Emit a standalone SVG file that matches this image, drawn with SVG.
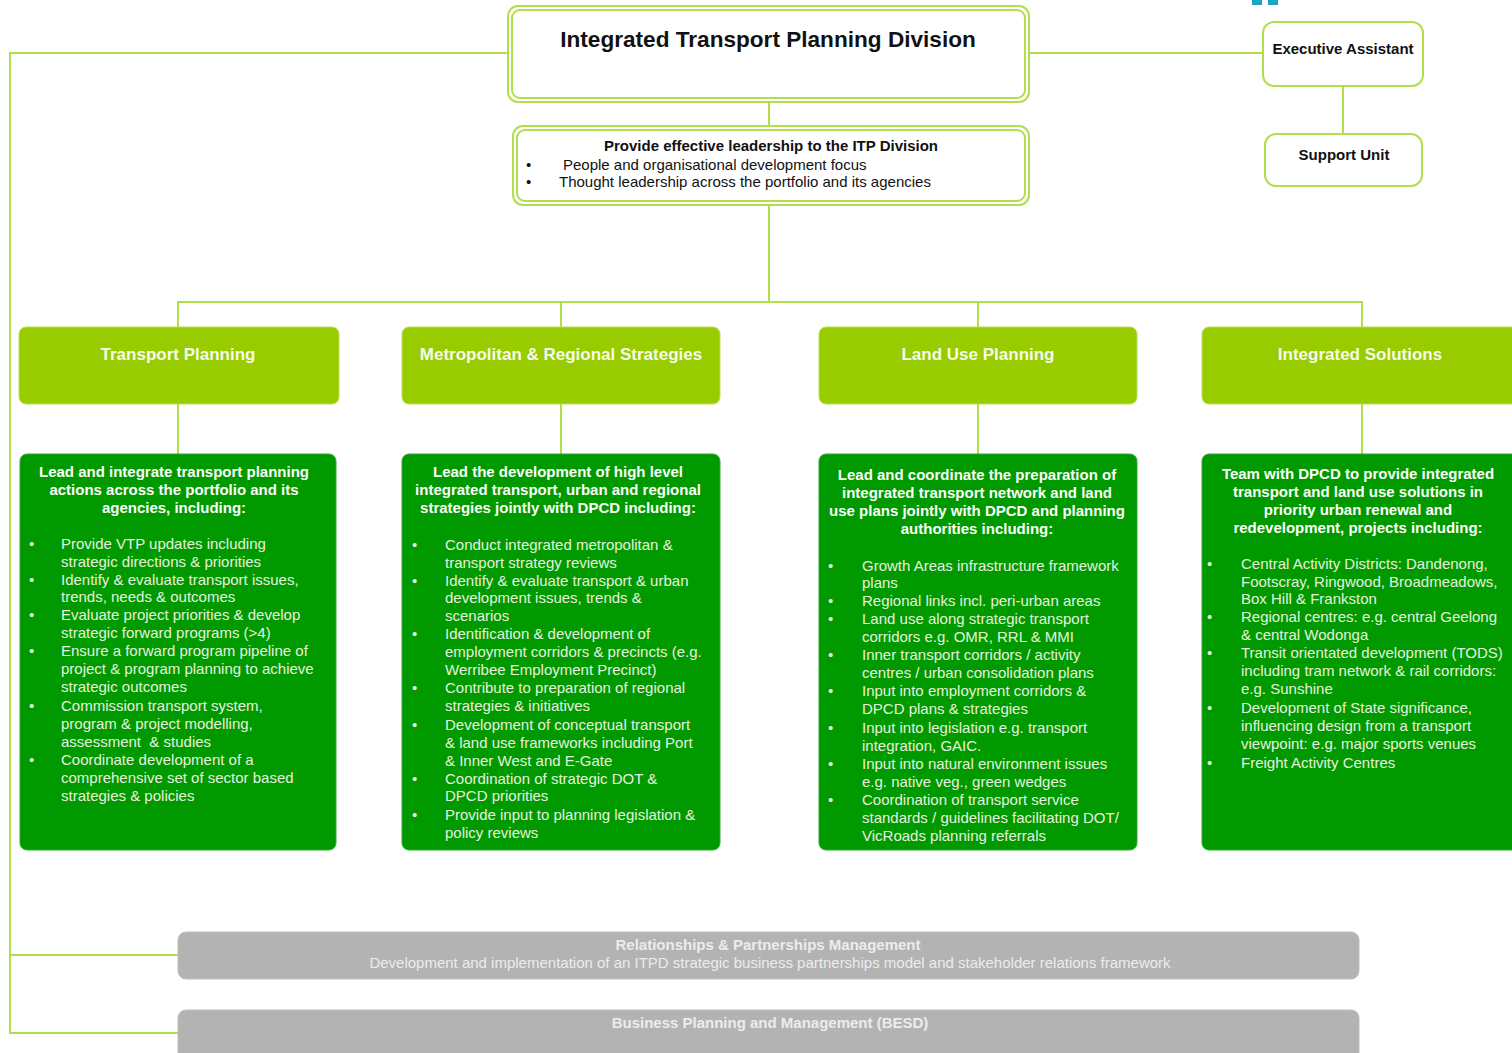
<svg xmlns="http://www.w3.org/2000/svg" width="1512" height="1053" viewBox="0 0 1512 1053">
<style>
text{font-family:"Liberation Sans",Arial,sans-serif}
.conn{stroke:#b2dd4c;stroke-width:2;fill:none}
.wbox{fill:#fff;stroke:#b2dd4c;stroke-width:2}
.hdr{fill:#99cc00;stroke:#b8e05a;stroke-width:1}
.dk{fill:#009900;stroke:#33aa33;stroke-width:1}
.gray{fill:#b3b3b3;stroke:#bdbdbd;stroke-width:1}
.t-blk{fill:#111;font-weight:bold}
.t-reg{fill:#111;font-size:15px}
.h-wt{fill:#f4fbe8;font-weight:bold;font-size:17px;text-anchor:middle}
.dh{fill:#fbfff8;font-weight:bold;font-size:15px;text-anchor:middle}
.db{fill:#e6f2df;font-size:15px}
.gt{fill:#ececec;font-size:15px;text-anchor:middle}
</style>
<rect width="1512" height="1053" fill="#fff"/>
<rect x="1252" y="-4" width="10" height="9" fill="#1ba3c9"/>
<rect x="1268" y="-4" width="10" height="9" fill="#1ba3c9"/>
<g id="connectors">
<path class="conn" d="M508 53 H10 V1033 H178"/>
<path class="conn" d="M10 955 H178"/>
<path class="conn" d="M1029 53 H1263"/>
<path class="conn" d="M1343 86 V134"/>
<path class="conn" d="M769 102 V126"/>
<path class="conn" d="M769 205 V302"/>
<path class="conn" d="M178 327 V302 H1362 V327"/>
<path class="conn" d="M561 302 V327"/>
<path class="conn" d="M978 302 V327"/>
<path class="conn" d="M178 404 V454"/>
<path class="conn" d="M561 404 V454"/>
<path class="conn" d="M978 404 V454"/>
<path class="conn" d="M1362 404 V454"/>
</g>
<g id="itpd">
<rect class="wbox" x="508" y="6" width="521" height="96" rx="10"/>
<rect class="wbox" x="512" y="10" width="513" height="88" rx="8"/>
<text class="t-blk" x="768" y="47" font-size="22.6" text-anchor="middle">Integrated Transport Planning Division</text>
</g>
<g id="leadership">
<rect class="wbox" x="513" y="126" width="516" height="79" rx="10"/>
<rect class="wbox" x="517" y="130" width="508" height="71" rx="8"/>
<text class="t-blk" x="771" y="151" font-size="15" text-anchor="middle">Provide effective leadership to the ITP Division</text>
<text class="t-reg" x="526" y="170">•</text>
<text class="t-reg" x="563" y="170">People and organisational development focus</text>
<text class="t-reg" x="526" y="187">•</text>
<text class="t-reg" x="559" y="187">Thought leadership across the portfolio and its agencies</text>
</g>
<g id="exec-assistant">
<rect class="wbox" x="1263" y="22" width="160" height="64" rx="11"/>
<text class="t-blk" x="1343" y="54" font-size="15" text-anchor="middle">Executive Assistant</text>
</g>
<g id="support-unit">
<rect class="wbox" x="1265" y="134" width="157" height="52" rx="11"/>
<text class="t-blk" x="1344" y="160" font-size="15" text-anchor="middle">Support Unit</text>
</g>
<g id="transport-planning">
<rect class="hdr" x="19" y="327" width="320" height="77" rx="7"/>
<text class="h-wt" x="178" y="360">Transport Planning</text>
</g>
<g id="metro-regional">
<rect class="hdr" x="402" y="327" width="318" height="77" rx="7"/>
<text class="h-wt" x="561" y="360">Metropolitan &amp; Regional Strategies</text>
</g>
<g id="land-use">
<rect class="hdr" x="819" y="327" width="318" height="77" rx="7"/>
<text class="h-wt" x="978" y="360">Land Use Planning</text>
</g>
<g id="integrated-solutions">
<rect class="hdr" x="1202" y="327" width="330" height="77" rx="7"/>
<text class="h-wt" x="1360" y="360">Integrated Solutions</text>
</g>
<g id="tp-details">
<rect class="dk" x="20" y="454" width="316" height="396" rx="7"/>
<text class="dh" x="174" y="477">Lead and integrate transport planning</text>
<text class="dh" x="174" y="495">actions across the portfolio and its</text>
<text class="dh" x="174" y="513">agencies, including:</text>
<g class="db">
<text x="29" y="549">•</text><text x="61" y="549">Provide VTP updates including</text>
<text x="61" y="567">strategic directions &amp; priorities</text>
<text x="29" y="585">•</text><text x="61" y="585">Identify &amp; evaluate transport issues,</text>
<text x="61" y="602">trends, needs &amp; outcomes</text>
<text x="29" y="620">•</text><text x="61" y="620">Evaluate project priorities &amp; develop</text>
<text x="61" y="638">strategic forward programs (&gt;4)</text>
<text x="29" y="656">•</text><text x="61" y="656">Ensure a forward program pipeline of</text>
<text x="61" y="674">project &amp; program planning to achieve</text>
<text x="61" y="692">strategic outcomes</text>
<text x="29" y="711">•</text><text x="61" y="711">Commission transport system,</text>
<text x="61" y="729">program &amp; project modelling,</text>
<text x="61" y="747" xml:space="preserve">assessment  &amp; studies</text>
<text x="29" y="765">•</text><text x="61" y="765">Coordinate development of a</text>
<text x="61" y="783">comprehensive set of sector based</text>
<text x="61" y="801">strategies &amp; policies</text>
</g>
</g>
<g id="mr-details">
<rect class="dk" x="402" y="454" width="318" height="396" rx="7"/>
<text class="dh" x="558" y="477">Lead the development of high level</text>
<text class="dh" x="558" y="495">integrated transport, urban and regional</text>
<text class="dh" x="558" y="513">strategies jointly with DPCD including:</text>
<g class="db">
<text x="412" y="550">•</text><text x="445" y="550">Conduct integrated metropolitan &amp;</text>
<text x="445" y="568">transport strategy reviews</text>
<text x="412" y="586">•</text><text x="445" y="586">Identify &amp; evaluate transport &amp; urban</text>
<text x="445" y="603">development issues, trends &amp;</text>
<text x="445" y="621">scenarios</text>
<text x="412" y="639">•</text><text x="445" y="639">Identification &amp; development of</text>
<text x="445" y="657">employment corridors &amp; precincts (e.g.</text>
<text x="445" y="675">Werribee Employment Precinct)</text>
<text x="412" y="693">•</text><text x="445" y="693">Contribute to preparation of regional</text>
<text x="445" y="711">strategies &amp; initiatives</text>
<text x="412" y="730">•</text><text x="445" y="730">Development of conceptual transport</text>
<text x="445" y="748">&amp; land use frameworks including Port</text>
<text x="445" y="766">&amp; Inner West and E-Gate</text>
<text x="412" y="784">•</text><text x="445" y="784">Coordination of strategic DOT &amp;</text>
<text x="445" y="801">DPCD priorities</text>
<text x="412" y="820">•</text><text x="445" y="820">Provide input to planning legislation &amp;</text>
<text x="445" y="838">policy reviews</text>
</g>
</g>
<g id="lu-details">
<rect class="dk" x="819" y="454" width="318" height="396" rx="7"/>
<text class="dh" x="977" y="480">Lead and coordinate the preparation of</text>
<text class="dh" x="977" y="498">integrated transport network and land</text>
<text class="dh" x="977" y="516">use plans jointly with DPCD and planning</text>
<text class="dh" x="977" y="534">authorities including:</text>
<g class="db">
<text x="828" y="571">•</text><text x="862" y="571">Growth Areas infrastructure framework</text>
<text x="862" y="588">plans</text>
<text x="828" y="606">•</text><text x="862" y="606">Regional links incl. peri-urban areas</text>
<text x="828" y="624">•</text><text x="862" y="624">Land use along strategic transport</text>
<text x="862" y="642">corridors e.g. OMR, RRL &amp; MMI</text>
<text x="828" y="660">•</text><text x="862" y="660">Inner transport corridors / activity</text>
<text x="862" y="678">centres / urban consolidation plans</text>
<text x="828" y="696">•</text><text x="862" y="696">Input into employment corridors &amp;</text>
<text x="862" y="714">DPCD plans &amp; strategies</text>
<text x="828" y="733">•</text><text x="862" y="733">Input into legislation e.g. transport</text>
<text x="862" y="751">integration, GAIC.</text>
<text x="828" y="769">•</text><text x="862" y="769">Input into natural environment issues</text>
<text x="862" y="787">e.g. native veg., green wedges</text>
<text x="828" y="805">•</text><text x="862" y="805">Coordination of transport service</text>
<text x="862" y="823">standards / guidelines facilitating DOT/</text>
<text x="862" y="841">VicRoads planning referrals</text>
</g>
</g>
<g id="is-details">
<rect class="dk" x="1202" y="454" width="330" height="396" rx="7"/>
<text class="dh" x="1358" y="479">Team with DPCD to provide integrated</text>
<text class="dh" x="1358" y="497">transport and land use solutions in</text>
<text class="dh" x="1358" y="515">priority urban renewal and</text>
<text class="dh" x="1358" y="533">redevelopment, projects including:</text>
<g class="db">
<text x="1207" y="569">•</text><text x="1241" y="569">Central Activity Districts: Dandenong,</text>
<text x="1241" y="587">Footscray, Ringwood, Broadmeadows,</text>
<text x="1241" y="604">Box Hill &amp; Frankston</text>
<text x="1207" y="622">•</text><text x="1241" y="622">Regional centres: e.g. central Geelong</text>
<text x="1241" y="640">&amp; central Wodonga</text>
<text x="1207" y="658">•</text><text x="1241" y="658">Transit orientated development (TODS)</text>
<text x="1241" y="676">including tram network &amp; rail corridors:</text>
<text x="1241" y="694">e.g. Sunshine</text>
<text x="1207" y="713">•</text><text x="1241" y="713">Development of State significance,</text>
<text x="1241" y="731">influencing design from a transport</text>
<text x="1241" y="749">viewpoint: e.g. major sports venues</text>
<text x="1207" y="768">•</text><text x="1241" y="768">Freight Activity Centres</text>
</g>
</g>
<g id="relationships">
<rect class="gray" x="178" y="932" width="1181" height="47" rx="8"/>
<text class="gt" x="768" y="950" font-weight="bold" font-size="14">Relationships &amp; Partnerships Management</text>
<text class="gt" x="770" y="968" font-size="14.5">Development and implementation of an ITPD strategic business partnerships model and stakeholder relations framework</text>
</g>
<g id="business-planning">
<rect class="gray" x="178" y="1010" width="1181" height="60" rx="8"/>
<text class="gt" x="770" y="1028" font-weight="bold" font-size="14">Business Planning and Management (BESD)</text>
</g>
</svg>
